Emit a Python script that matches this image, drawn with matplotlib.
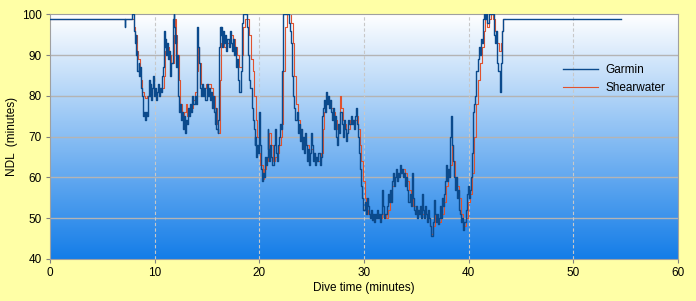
import matplotlib
matplotlib.use("Agg")
import matplotlib.pyplot as plt
import numpy as np

plt.rcParams['font.family'] = ['Liberation Sans', 'DejaVu Sans']

# NDL readings (dive time in minutes, NDL in minutes)
garmin = [
    (0, 99), (7.1, 99), (7.15, 97), (7.2, 99), (7.7, 99), (7.85, 100), (8.0, 100), (8.05, 96),
    (8.15, 93), (8.2, 95), (8.25, 90), (8.3, 91), (8.35, 86), (8.45, 88), (8.5, 85), (8.6, 87),
    (8.65, 82), (8.75, 80), (8.85, 76), (8.9, 75), (9.0, 76), (9.1, 74), (9.2, 76), (9.3, 75),
    (9.4, 80), (9.45, 84), (9.5, 80), (9.55, 83), (9.6, 79), (9.7, 82), (9.8, 85), (9.9, 80),
    (10.0, 82), (10.1, 79), (10.2, 81), (10.3, 83), (10.4, 80), (10.5, 82), (10.6, 81), (10.7, 85),
    (10.8, 87), (10.9, 96), (10.95, 92), (11.0, 94), (11.1, 90), (11.2, 93), (11.3, 89), (11.4, 91),
    (11.5, 85), (11.6, 88), (11.7, 99), (11.8, 100), (11.85, 97), (11.9, 93), (12.0, 95), (12.05, 87),
    (12.15, 90), (12.25, 80), (12.35, 76), (12.4, 78), (12.5, 74), (12.6, 76), (12.7, 72), (12.8, 75),
    (12.85, 71), (12.95, 74), (13.05, 73), (13.15, 77), (13.25, 75), (13.35, 78), (13.5, 76), (13.6, 80),
    (13.7, 78), (13.8, 80), (13.9, 78), (14.0, 96), (14.05, 97), (14.1, 92), (14.2, 88), (14.3, 84),
    (14.35, 82), (14.45, 80), (14.55, 83), (14.65, 80), (14.75, 82), (14.85, 79), (14.95, 83), (15.05, 80),
    (15.15, 82), (15.25, 79), (15.35, 81), (15.45, 77), (15.55, 80), (15.65, 76), (15.75, 73), (15.85, 77),
    (15.9, 72), (16.0, 71), (16.05, 74), (16.15, 92), (16.2, 97), (16.3, 95), (16.35, 97), (16.45, 92),
    (16.55, 96), (16.65, 93), (16.75, 95), (16.85, 91), (16.95, 94), (17.05, 92), (17.15, 96), (17.25, 93),
    (17.35, 91), (17.5, 94), (17.6, 90), (17.7, 92), (17.8, 87), (17.9, 89), (18.0, 84), (18.1, 81),
    (18.2, 86), (18.3, 98), (18.4, 100), (18.8, 100), (18.85, 97), (18.95, 90), (19.05, 84), (19.15, 82),
    (19.25, 77), (19.35, 74), (19.45, 72), (19.55, 68), (19.6, 70), (19.7, 65), (19.8, 68), (19.9, 66),
    (19.97, 76), (20.05, 68), (20.15, 62), (20.25, 59), (20.3, 61), (20.4, 60), (20.5, 65), (20.6, 63),
    (20.7, 65), (20.8, 72), (20.85, 67), (20.95, 64), (21.05, 68), (21.15, 65), (21.25, 63), (21.35, 68),
    (21.45, 72), (21.55, 66), (21.65, 64), (21.75, 68), (21.85, 70), (21.95, 73), (22.05, 72), (22.15, 86),
    (22.25, 98), (22.3, 100), (22.8, 100), (22.85, 98), (22.95, 96), (23.05, 93), (23.15, 85), (23.25, 80),
    (23.35, 77), (23.45, 74), (23.55, 76), (23.65, 71), (23.75, 73), (23.85, 69), (23.95, 72), (24.05, 67),
    (24.15, 70), (24.25, 66), (24.35, 71), (24.45, 68), (24.55, 64), (24.65, 67), (24.75, 63), (24.85, 66),
    (24.95, 71), (25.05, 68), (25.15, 64), (25.25, 66), (25.35, 63), (25.45, 65), (25.55, 64), (25.65, 66),
    (25.75, 63), (25.85, 65), (25.95, 75), (26.05, 77), (26.15, 79), (26.25, 76), (26.35, 81), (26.45, 78),
    (26.55, 80), (26.65, 77), (26.75, 79), (26.85, 76), (26.95, 74), (27.05, 77), (27.15, 72), (27.25, 75),
    (27.35, 70), (27.45, 68), (27.55, 73), (27.65, 71), (27.75, 76), (27.85, 73), (27.95, 70), (28.05, 74),
    (28.15, 72), (28.25, 69), (28.35, 71), (28.5, 74), (28.6, 73), (28.75, 75), (28.85, 73), (28.95, 74),
    (29.05, 72), (29.15, 75), (29.25, 77), (29.35, 73), (29.45, 70), (29.55, 66), (29.65, 62), (29.75, 58),
    (29.85, 55), (29.95, 52), (30.05, 54), (30.15, 51), (30.25, 55), (30.35, 53), (30.45, 51), (30.55, 50),
    (30.65, 52), (30.75, 49.5), (30.85, 51), (30.95, 49), (31.05, 51), (31.15, 50), (31.25, 52), (31.35, 50),
    (31.45, 51), (31.55, 49), (31.65, 51), (31.75, 57), (31.85, 53), (31.95, 50), (32.05, 51), (32.15, 53),
    (32.25, 56), (32.35, 54), (32.45, 57), (32.55, 54), (32.65, 59), (32.75, 61), (32.85, 58), (32.95, 60),
    (33.05, 62), (33.15, 59), (33.25, 61), (33.35, 60), (33.45, 63), (33.55, 61), (33.65, 62), (33.75, 60),
    (33.85, 61), (33.95, 58), (34.05, 60), (34.15, 57), (34.25, 54), (34.35, 56), (34.45, 53), (34.55, 61),
    (34.65, 55), (34.75, 52), (34.85, 51), (34.95, 53), (35.05, 50), (35.15, 52), (35.25, 51), (35.35, 53),
    (35.45, 50), (35.55, 56), (35.65, 52), (35.75, 50), (35.85, 53), (35.95, 51), (36.05, 49), (36.15, 52),
    (36.25, 50), (36.35, 48), (36.45, 45.5), (36.55, 49), (36.65, 54.5), (36.75, 51), (36.85, 49), (36.95, 51),
    (37.05, 48.5), (37.15, 50), (37.25, 53), (37.35, 50), (37.45, 55), (37.55, 53), (37.65, 56), (37.75, 59),
    (37.85, 63), (37.95, 59), (38.05, 62), (38.15, 60), (38.25, 70), (38.3, 75), (38.4, 68), (38.5, 64),
    (38.6, 60), (38.7, 57), (38.8, 60), (38.9, 55), (39.0, 57), (39.1, 52), (39.2, 51), (39.3, 49),
    (39.4, 50), (39.5, 47), (39.6, 49), (39.7, 52), (39.8, 56), (39.9, 58), (40.0, 55), (40.1, 57),
    (40.2, 60), (40.3, 66), (40.4, 76), (40.5, 78), (40.6, 80), (40.75, 86), (40.85, 89), (40.95, 92),
    (41.05, 90), (41.15, 94), (41.25, 93), (41.35, 99), (41.45, 100), (41.6, 99), (41.7, 100), (41.8, 98),
    (41.9, 100), (42.35, 100), (42.4, 95), (42.5, 93), (42.6, 96), (42.7, 92), (42.75, 88), (42.85, 86),
    (42.95, 81), (43.05, 88), (43.15, 96), (43.25, 99), (54.6, 99),
]

shearwater = [
    (0, 99), (7.3, 99), (7.9, 99), (8.0, 97), (8.1, 95), (8.3, 91), (8.4, 89), (8.55, 85),
    (8.65, 84), (8.8, 81), (8.95, 80), (9.1, 79.5), (9.3, 80), (9.5, 81), (9.7, 82), (10.0, 81),
    (10.3, 82), (10.6, 82), (10.9, 85), (11.0, 91), (11.2, 92), (11.4, 90), (11.6, 88), (11.8, 95),
    (11.95, 99), (12.05, 95), (12.15, 90), (12.3, 84), (12.45, 78), (12.6, 75), (12.8, 76), (12.95, 78),
    (13.1, 75), (13.3, 76), (13.5, 77), (13.7, 79), (13.85, 81), (14.05, 86), (14.15, 92), (14.25, 88),
    (14.4, 83), (14.6, 82), (14.9, 83), (15.2, 83), (15.4, 82), (15.6, 80), (15.8, 77), (15.95, 73),
    (16.05, 71), (16.2, 84), (16.35, 93), (16.6, 92), (16.9, 93), (17.1, 94), (17.3, 95), (17.5, 94),
    (17.7, 92), (17.9, 90), (18.1, 87), (18.3, 90), (18.45, 97), (18.6, 99), (18.9, 99), (19.05, 95),
    (19.2, 89), (19.35, 86), (19.5, 80), (19.65, 74), (19.8, 70), (19.95, 66), (20.1, 63), (20.3, 59.5),
    (20.45, 62), (20.6, 64), (20.8, 67), (20.95, 71), (21.1, 68), (21.3, 64), (21.5, 65), (21.7, 66),
    (21.9, 68), (22.1, 70), (22.2, 73), (22.3, 86), (22.45, 97), (22.6, 100), (22.9, 100), (23.05, 98),
    (23.2, 93), (23.35, 85), (23.5, 78), (23.7, 74), (23.9, 72), (24.1, 70), (24.3, 69), (24.5, 68),
    (24.7, 66), (24.9, 67), (25.1, 66), (25.3, 65), (25.5, 64), (25.7, 64), (25.9, 66), (26.05, 72),
    (26.2, 76), (26.4, 78), (26.6, 79), (26.8, 77), (27.0, 76), (27.2, 74), (27.4, 72), (27.6, 73),
    (27.7, 80), (27.8, 77), (27.95, 74), (28.1, 73), (28.3, 71), (28.5, 72), (28.7, 74), (28.9, 74),
    (29.1, 74), (29.3, 75), (29.45, 72), (29.6, 68), (29.75, 64), (29.9, 59), (30.05, 55), (30.2, 52),
    (30.35, 51), (30.6, 51), (30.9, 50), (31.2, 50), (31.5, 50), (31.7, 51), (31.9, 51), (32.1, 50),
    (32.3, 52), (32.5, 55), (32.7, 58), (32.9, 60), (33.1, 61), (33.4, 61), (33.7, 62), (33.9, 61),
    (34.1, 59), (34.3, 57), (34.5, 55), (34.7, 53), (34.9, 53), (35.1, 52), (35.4, 51), (35.7, 52),
    (35.9, 51), (36.1, 50), (36.3, 48), (36.45, 46), (36.6, 48), (36.8, 51), (37.0, 50), (37.2, 49),
    (37.4, 51), (37.6, 54), (37.8, 58), (38.0, 60), (38.2, 63), (38.4, 68), (38.55, 64), (38.7, 60),
    (38.9, 58), (39.1, 55), (39.3, 51), (39.5, 48), (39.7, 50), (39.9, 54), (40.1, 56), (40.3, 61),
    (40.5, 70), (40.7, 78), (40.9, 84), (41.1, 88), (41.3, 92), (41.45, 96), (41.6, 99), (41.75, 97),
    (41.9, 99), (42.1, 100), (42.3, 99), (42.5, 96), (42.7, 93), (42.9, 91), (43.05, 93), (43.2, 96),
    (43.3, 99), (43.45, 99),
]

x_ticks = [0, 10, 20, 30, 40, 50, 60]
y_ticks = [40, 50, 60, 70, 80, 90, 100]

garmin_t, garmin_ndl = zip(*garmin)
shear_t, shear_ndl = zip(*shearwater)

fig = plt.figure(figsize=(6.96, 3.01), dpi=100, facecolor='#ffffa6')
ax = fig.add_axes([0.072, 0.14, 0.902, 0.812])

# plot area gradient: white at top to blue at bottom
top = np.array([1.0, 1.0, 1.0])
bottom = np.array([20, 125, 232]) / 255.0
frac = np.linspace(0, 1, 256)[:, None]
grad = (top * (1 - frac) + bottom * frac)[:, None, :]
ax.imshow(grad, extent=[0, 1, 0, 1], transform=ax.transAxes, aspect='auto', zorder=0)

# grid lines
for y in y_ticks[1:-1]:
    ax.axhline(y, color='#b4b4b4', lw=1.0, zorder=1)
for x in x_ticks[1:-1]:
    ax.axvline(x, color='#c8c8c8', lw=0.8, ls=(0, (3, 2)), zorder=1)

ax.plot(shear_t, shear_ndl, color='#e0522e', lw=0.8, drawstyle='steps-post',
        label='Shearwater', zorder=2)
ax.plot(garmin_t, garmin_ndl, color='#0b4a8c', lw=1.0, drawstyle='steps-post',
        label='Garmin', zorder=3)

ax.set_xlim(0, 60)
ax.set_ylim(40, 100)
ax.set_xticks(x_ticks)
ax.set_yticks(y_ticks)
ax.tick_params(labelsize=8.5, length=3, color='#808080', pad=3)
for s in ax.spines.values():
    s.set_color('#a0a0a0')
    s.set_linewidth(0.8)

ax.set_xlabel('Dive time (minutes)', fontsize=8.5, labelpad=2)
ax.set_ylabel('NDL  (minutes)', fontsize=8.5, labelpad=3)

h, l = ax.get_legend_handles_labels()
ax.legend(h[::-1], l[::-1], loc='upper left', bbox_to_anchor=(0.8, 0.84), frameon=False,
          fontsize=8.5, handlelength=3.0, handletextpad=0.6, labelspacing=0.5)

fig.savefig('out.png', dpi=100, facecolor=fig.get_facecolor())
